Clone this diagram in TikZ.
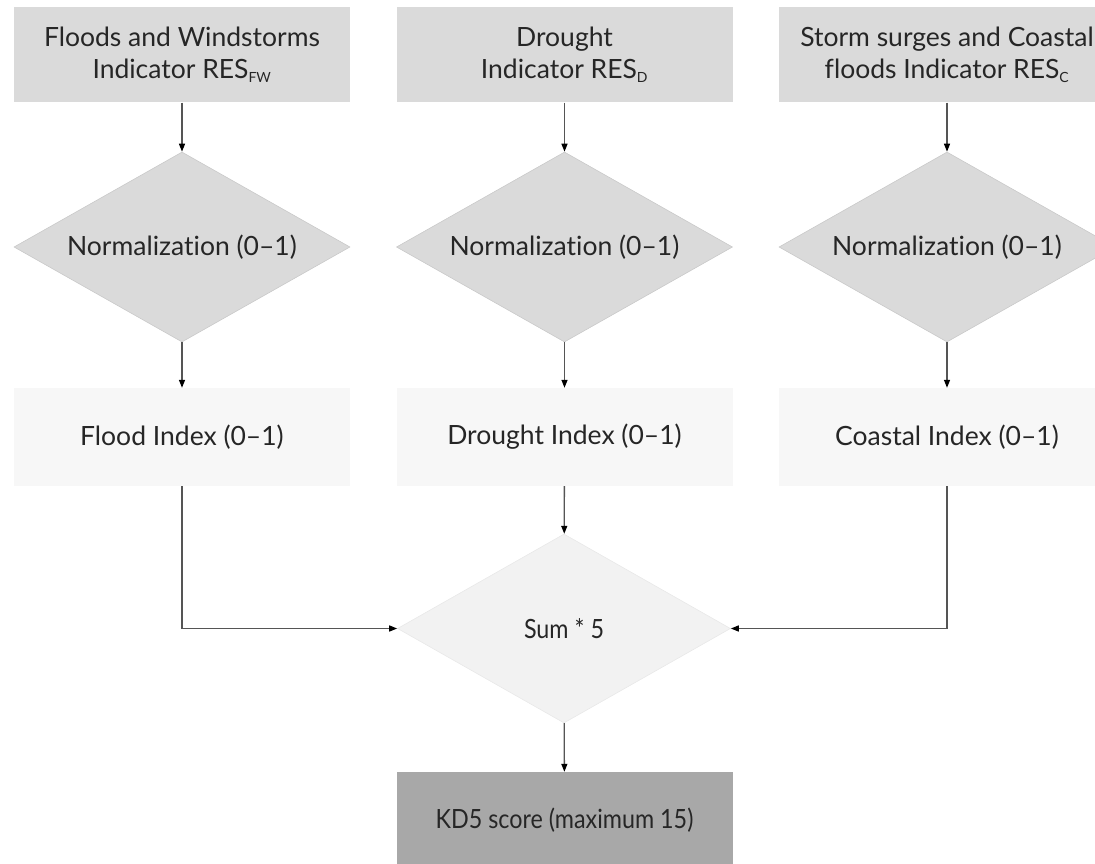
\documentclass[tikz,border=0pt]{standalone}
\usepackage{fontspec}
\setmainfont{Lato}[Ligatures=NoCommon]
\usetikzlibrary{shapes.geometric,arrows.meta}
\definecolor{topgray}{HTML}{DADADA}
\definecolor{diamondedge}{HTML}{C9C9C9}
\definecolor{indexfill}{HTML}{F7F7F7}
\definecolor{sumfill}{HTML}{F2F2F2}
\definecolor{sumedge}{HTML}{E8E8E8}
\definecolor{scorefill}{HTML}{A8A8A8}
\definecolor{txt}{HTML}{262626}
\definecolor{linegray}{HTML}{555555}
\begin{document}
\begin{tikzpicture}[x=1pt,y=-1pt,
  every node/.style={text=txt, font=\fontsize{26.5}{32}\selectfont},
  indicator/.style={fill=topgray, minimum width=336pt, minimum height=95pt,
    inner sep=0pt, align=center},
  normdiamond/.style={shape=diamond, aspect=1.77, fill=topgray, draw=diamondedge,
    line width=0.6pt, minimum width=336pt, minimum height=190pt, inner sep=0pt},
  indexbox/.style={fill=indexfill, minimum width=336pt, minimum height=98pt, inner sep=0pt},
  sumdiamond/.style={shape=diamond, aspect=1.77, fill=sumfill, draw=sumedge,
    line width=0.6pt, minimum width=333pt, minimum height=189pt, inner sep=0pt},
  scorebox/.style={fill=scorefill, minimum width=336pt, minimum height=96pt, inner sep=0pt},
  arr/.style={draw=linegray, line width=1.3pt,
    -{Triangle[length=8pt,width=6pt,color=black]}}
]
\useasboundingbox (0,0) rectangle (1095,864);
\newcommand{\subtext}[1]{\textsubscript{\fontsize{14}{14}\selectfont #1}}

% indicator boxes
\node[indicator] (ind1) at (182,55) {Floods and Windstorms\\Indicator RES\subtext{FW}};
\node[indicator] (ind2) at (564.5,55) {Drought\\Indicator RES\subtext{D}};
\node[indicator] (ind3) at (947,55) {Storm surges and Coastal\\floods Indicator RES\subtext{C}};

% normalization diamonds
\node[normdiamond] (nrm1) at (182,247) {Normalization (0--1)};
\node[normdiamond] (nrm2) at (564.5,247) {Normalization (0--1)};
\node[normdiamond] (nrm3) at (947,247) {Normalization (0--1)};

% index boxes
\node[indexbox] (idx1) at (182,437) {Flood Index (0--1)};
\node[indexbox] (idx2) at (564.5,437) {Drought Index (0--1)};
\node[indexbox] (idx3) at (947,437) {Coastal Index (0--1)};

% aggregation and result
\node[sumdiamond] (sum) at (564,628.5) {\scalebox{0.88}[1]{Sum * 5}};
\node[scorebox] (score) at (564.5,820) {\scalebox{0.88}[1]{KD5 score (maximum 15)}};

% connectors
\draw[arr] (ind1) -- (nrm1);
\draw[arr] (ind2) -- (nrm2);
\draw[arr] (ind3) -- (nrm3);
\draw[arr] (nrm1) -- (idx1);
\draw[arr] (nrm2) -- (idx2);
\draw[arr] (nrm3) -- (idx3);
\draw[arr] (idx1.south) |- (sum.west);
\draw[arr] (idx2) -- (sum);
\draw[arr] (idx3.south) |- (sum.east);
\draw[arr] (sum) -- (score);
\end{tikzpicture}
\end{document}
